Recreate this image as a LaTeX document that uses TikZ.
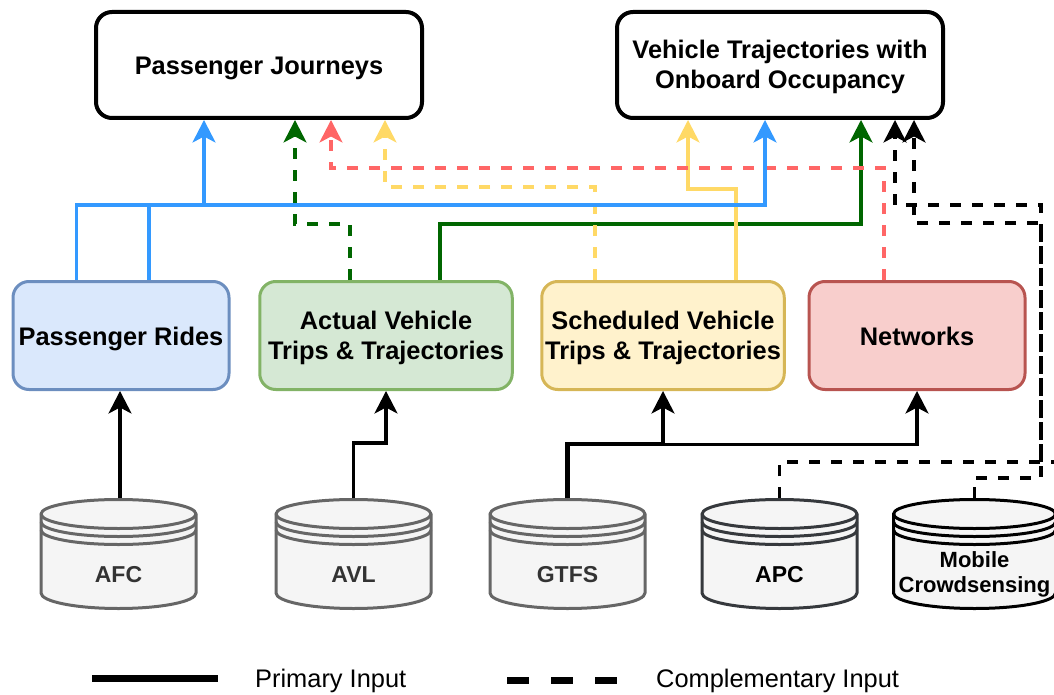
\documentclass[tikz,border=0pt]{standalone}
\usepackage{fontspec}
\setmainfont{Liberation Sans}
\usetikzlibrary{arrows.meta}
\definecolor{linkblue}{HTML}{3399FF}
\definecolor{linkgreen}{HTML}{006600}
\definecolor{linkred}{HTML}{FF6666}
\definecolor{linkyellow}{HTML}{FFD966}
\definecolor{ridesfill}{HTML}{DAE8FC}
\definecolor{ridesdraw}{HTML}{6C8EBF}
\definecolor{actualfill}{HTML}{D5E8D4}
\definecolor{actualdraw}{HTML}{82B366}
\definecolor{schedfill}{HTML}{FFF2CC}
\definecolor{scheddraw}{HTML}{D6B656}
\definecolor{netfill}{HTML}{F8CECC}
\definecolor{netdraw}{HTML}{B85450}
\definecolor{dbfill}{HTML}{F5F5F5}
\definecolor{dbgrey}{HTML}{666666}
\definecolor{dbdark}{HTML}{36393D}
\definecolor{dbtextgrey}{HTML}{333333}
\tikzset{
	databox/.style={draw,rounded corners=16pt,line width=3pt,align=center,font=\fontsize{25.4}{29.5}\selectfont\bfseries,minimum height=108pt,text height=19pt,text depth=0pt},
	twolines/.style={text height=47pt},
	outbox/.style={databox,line width=4pt,fill=white,minimum width=326pt,minimum height=106pt},
	dbshell/.style={minimum width=155pt,minimum height=110pt,inner sep=0pt},
	dbtext/.style={align=center,font=\fontsize{23}{25}\selectfont\bfseries},
	plainlink/.style={line width=3.2pt},
	dashlink/.style={plainlink,dash pattern=on 11pt off 11pt},
	tip/.style={-{Stealth[length=22.5pt,width=23pt,inset=6pt]}},
	legendtext/.style={font=\fontsize{25.4}{29}\selectfont,anchor=west,inner sep=0pt},
}
\newcommand{\dbstack}[6][]{
	\fill[dbfill] (#3-#4,514) arc (180:360:#4 and 14.5) -- (#3+#4,593) arc (0:180:#4 and 15.5) -- cycle;
	\draw[line width=3pt,#5,line join=round] (#3-#4,514) arc (180:360:#4 and 14.5) -- (#3+#4,593) arc (0:180:#4 and 15.5) -- cycle;
	\draw[line width=3pt,#5] (#3-#4,514) arc (180:0:#4 and 14.5);
	\draw[line width=3pt,#5] (#3-#4,522) arc (180:0:#4 and 14.5);
	\draw[line width=3pt,#5] (#3-#4,530) arc (180:0:#4 and 14.5);
	\node[dbshell] (#2) at (#3,553.5) {};
	\node[dbtext,#1] (#2text) at (#3,574.5) {#6};
}
\begin{document}
\begin{tikzpicture}[x=1pt,y=-1pt]
	\clip (0,0) rectangle (1054,695);
	\node[outbox] (journeys) at (259,65) {Passenger Journeys};
	\node[outbox,twolines] (trajectories) at (780,65) {Vehicle Trajectories with\\Onboard Occupancy};
	\node[databox,draw=ridesdraw,fill=ridesfill,minimum width=216pt] (rides) at (121,335.5) {Passenger Rides};
	\node[databox,twolines,draw=actualdraw,fill=actualfill,minimum width=252.5pt] (actual) at (386,335.5) {Actual Vehicle\\Trips \& Trajectories};
	\node[databox,twolines,draw=scheddraw,fill=schedfill,minimum width=242.5pt] (sched) at (663,335.5) {Scheduled Vehicle\\Trips \& Trajectories};
	\node[databox,draw=netdraw,fill=netfill,minimum width=216pt] (networks) at (917,335.5) {Networks};
	\dbstack[text=dbtextgrey]{afc}{118.5}{77.5}{dbgrey}{AFC}
	\dbstack[text=dbtextgrey]{avl}{353.5}{77.5}{dbgrey}{AVL}
	\dbstack[text=dbtextgrey]{gtfs}{567.5}{77.5}{dbgrey}{GTFS}
	\dbstack{apc}{779.5}{77.5}{dbdark}{APC}
	\dbstack[font=\fontsize{22}{25}\selectfont\bfseries]{mobile}{974.5}{81}{black}{Mobile\\Crowdsensing}
	\coordinate (sidejoin) at (1041,462);

	\draw[plainlink,tip] (afc.north) ++(1.5,0) -- (rides.south -| 120,0);
	\draw[plainlink,tip] (avl.north) -- (353.5,443) -- (386,443) -- (actual.south);
	\draw[plainlink,tip] ([xshift=-.7pt]gtfs.north) -- (566.8,443.5) -- (663,443.5) -- (sched.south);
	\draw[plainlink,tip] ([xshift=.7pt]gtfs.north) -- (568.2,444.5) -- (917,444.5) -- (networks.south);

	\draw[dashlink] (apc.north) -- (779.5,462) -- (1054,462);
	\draw[dashlink,tip] (sidejoin) -- (1041,223) -- (914,223) -- ([xshift=134pt]trajectories.south);
	\draw[dashlink,tip] (mobile.north) -- (974.5,478) -- (1041,478) -- (1041,205) -- (895,205) -- ([xshift=115pt]trajectories.south);

	\draw[dashlink,linkgreen,tip] ([xshift=-36pt]actual.north) -- (350,224) -- (295,224) -- ([xshift=36pt]journeys.south);
	\draw[plainlink,linkgreen,tip] ([xshift=54pt]actual.north) -- (440,224) -- (861,224) -- ([xshift=81pt]trajectories.south);
	\draw[dashlink,linkyellow,tip] ([xshift=-68pt]sched.north) -- (595,187) -- (385,187) -- ([xshift=126pt]journeys.south);
	\draw[plainlink,linkyellow,tip] ([xshift=73pt]sched.north) -- (736,189) -- (688,189) -- ([xshift=-92pt]trajectories.south);
	\draw[dashlink,linkred,tip] ([xshift=-33pt]networks.north) -- (884,168) -- (331,168) -- ([xshift=72pt]journeys.south);
	\draw[plainlink,linkblue,tip] ([xshift=-44.5pt]rides.north) -- (76.5,205) -- (765,205) -- ([xshift=-15pt]trajectories.south);
	\draw[plainlink,linkblue] ([xshift=28pt]rides.north) -- (149,205);
	\draw[plainlink,linkblue,tip] (204,205) -- ([xshift=-55pt]journeys.south);

	\coordinate (primarystart) at (92,678);
	\coordinate (primaryend) at (218,678);
	\coordinate (compstart) at (507,680);
	\coordinate (compend) at (617,680);
	\draw[line width=7pt] (primarystart) -- (primaryend);
	\draw[line width=7pt,dash pattern=on 22pt off 22pt] (compstart) -- (compend);
	\node[legendtext] (primarytext) at (255,681) {Primary Input};
	\node[legendtext] (comptext) at (656,681) {Complementary Input};
\end{tikzpicture}
\end{document}
